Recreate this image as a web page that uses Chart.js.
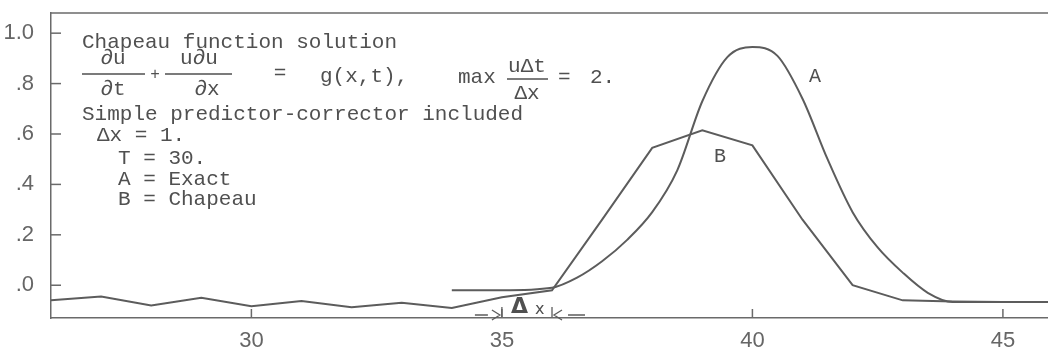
<!DOCTYPE html>
<html>
<head>
<meta charset="utf-8">
<script src="https://cdn.jsdelivr.net/npm/chart.js@4.4.1/dist/chart.umd.min.js"></script>
<style>
  html, body { margin: 0; padding: 0; background: #fff; }
  #wrap { width: 1048px; height: 360px; }
</style>
</head>
<body>
<div id="wrap"><canvas id="burgers" width="1048" height="360"></canvas></div>
<script>
// Chapeau solution (B) at the grid nodes, dx = 1
const chapeauX = [26, 27, 28, 29, 30, 31, 32, 33, 34, 35, 36, 37, 38, 39, 40, 41, 42, 43, 44, 45, 46];
const chapeauU = [-0.06, -0.045, -0.08, -0.05, -0.083, -0.063, -0.087, -0.07, -0.09, -0.048, -0.02,
                  0.26, 0.545, 0.615, 0.555, 0.26, 0.0, -0.06, -0.065, -0.067, -0.067];

// Exact solution (A), sampled at half steps so the curve stays smooth
const exactX = [34, 35, 36, 36.5, 37, 37.5, 38, 38.5, 39, 39.5, 40, 40.5, 41, 41.5, 42, 42.5, 43, 43.5, 44, 45, 46];
const exactU = [-0.02, -0.02, -0.01, 0.03, 0.095, 0.18, 0.29, 0.456, 0.73, 0.905, 0.945, 0.91, 0.74, 0.5,
                0.29, 0.15, 0.05, -0.03, -0.067, -0.067, -0.067];

const xTicks = [30, 35, 40, 45];
const xTickLabels = ['30', '35', '40', '45'];
const yTicks = [0, 0.2, 0.4, 0.6, 0.8, 1.0];
const yTickLabels = ['.0', '.2', '.4', '.6', '.8', '1.0'];

const ink = '#5c5c5c';
const mono = '"Liberation Mono", "DejaVu Sans Mono", monospace';

function pts(xs, ys) {
    return xs.map((x, i) => ({ x: x, y: ys[i] }));
}

// frame, inward ticks and the typed notes
const notes = {
    id: 'notes',
    afterDraw(chart) {
        const ctx = chart.ctx;
        const area = chart.chartArea;
        const sx = chart.scales.x;
        const sy = chart.scales.y;
        ctx.save();
        ctx.strokeStyle = '#6a6a6a';
        ctx.lineWidth = 1.5;

        // top edge of the frame
        ctx.beginPath();
        ctx.moveTo(area.left, area.top);
        ctx.lineTo(area.right, area.top);
        ctx.stroke();

        // inward tick marks
        yTicks.forEach(v => {
            const py = sy.getPixelForValue(v);
            ctx.beginPath();
            ctx.moveTo(area.left, py);
            ctx.lineTo(area.left + 10, py);
            ctx.stroke();
        });
        xTicks.forEach(v => {
            const px = sx.getPixelForValue(v);
            ctx.beginPath();
            ctx.moveTo(px, area.bottom);
            ctx.lineTo(px, area.bottom - 9);
            ctx.stroke();
        });

        ctx.fillStyle = '#505050';
        ctx.textBaseline = 'middle';
        ctx.textAlign = 'left';
        ctx.font = '21px ' + mono;
        ctx.fillText('Chapeau function solution', 82, 42);
        ctx.fillText('Simple predictor-corrector included', 82, 114);
        ctx.fillText('\u0394x = 1.', 97, 135);
        ctx.fillText('T = 30.', 118, 158);
        ctx.fillText('A = Exact', 118, 179);
        ctx.fillText('B = Chapeau', 118, 199);

        // du/dt + u du/dx = g(x,t)
        ctx.textAlign = 'center';
        ctx.fillText('\u2202u', 113, 58);
        ctx.fillText('\u2202t', 113, 89);
        ctx.fillText('u\u2202u', 199, 58);
        ctx.fillText('\u2202x', 207, 89);
        ctx.lineWidth = 1.5;
        ctx.strokeStyle = '#505050';
        ctx.beginPath();
        ctx.moveTo(82, 74); ctx.lineTo(145, 74);
        ctx.moveTo(165, 74); ctx.lineTo(232, 74);
        ctx.moveTo(507, 79); ctx.lineTo(548, 79);
        ctx.stroke();
        ctx.font = '16px ' + mono;
        ctx.fillText('+', 155, 75);
        ctx.font = '21px ' + mono;
        ctx.fillText('=', 280, 73);
        ctx.textAlign = 'left';
        ctx.fillText('g(x,t),', 320, 76);
        ctx.fillText('max', 458, 77);
        ctx.textAlign = 'center';
        ctx.fillText('u\u0394t', 527, 66);
        ctx.fillText('\u0394x', 527, 93);
        ctx.textAlign = 'left';
        ctx.fillText('=', 558, 77);
        ctx.fillText('2.', 590, 77);

        // curve labels
        ctx.font = '20px ' + mono;
        ctx.textAlign = 'center';
        ctx.fillText('A', 815, 77);
        ctx.fillText('B', 720, 157);

        // grid spacing marker between x = 35 and 36
        const p0 = sx.getPixelForValue(35);
        const p1 = sx.getPixelForValue(36);
        const my = area.bottom - 3;
        ctx.strokeStyle = '#5c5c5c';
        ctx.lineWidth = 1.3;
        ctx.beginPath();
        ctx.moveTo(p0 - 27, my); ctx.lineTo(p0 - 14, my);
        ctx.moveTo(p0 - 10, my - 5); ctx.lineTo(p0 - 2, my); ctx.lineTo(p0 - 10, my + 5);
        ctx.moveTo(p0, my - 8); ctx.lineTo(p0, my + 2);
        ctx.moveTo(p1, my - 8); ctx.lineTo(p1, my + 2);
        ctx.moveTo(p1 + 10, my - 5); ctx.lineTo(p1 + 2, my); ctx.lineTo(p1 + 10, my + 5);
        ctx.moveTo(p1 + 16, my); ctx.lineTo(p1 + 33, my);
        ctx.stroke();
        ctx.font = 'bold 22px "DejaVu Sans", sans-serif';
        ctx.textAlign = 'left';
        ctx.fillText('\u0394', p0 + 9, my - 8);
        ctx.font = '16px "DejaVu Sans", sans-serif';
        ctx.fillText('x', p0 + 33, my - 5);
        ctx.restore();
    }
};

const ctx = document.getElementById('burgers').getContext('2d');
const burgersChart = new Chart(ctx, {
    type: 'line',
    data: {
        datasets: [{
            label: 'A',
            data: pts(exactX, exactU),
            borderColor: ink,
            borderWidth: 2,
            pointRadius: 0,
            cubicInterpolationMode: 'monotone',
            fill: false
        }, {
            label: 'B',
            data: pts(chapeauX, chapeauU),
            borderColor: ink,
            borderWidth: 2,
            pointRadius: 0,
            tension: 0,
            fill: false
        }]
    },
    options: {
        responsive: false,
        animation: false,
        devicePixelRatio: 1,
        layout: {
            padding: { top: 13, right: 0, left: 0, bottom: 0 }
        },
        scales: {
            x: {
                type: 'linear',
                min: 26,
                max: 45.9,
                afterFit(scale) {
                    scale.height = 42;
                    scale.paddingLeft = 0;
                    scale.paddingRight = 0;
                },
                afterBuildTicks(scale) { scale.ticks = xTicks.map(v => ({ value: v })); },
                grid: { display: false, drawTicks: false },
                border: { display: true, color: '#6a6a6a', width: 1.5 },
                ticks: {
                    padding: 10,
                    color: '#666',
                    font: { family: '"Liberation Sans", sans-serif', size: 22 },
                    maxRotation: 0,
                    callback: (v) => xTickLabels[xTicks.indexOf(v)]
                }
            },
            y: {
                min: -0.13,
                max: 1.08,
                afterFit(scale) {
                    scale.width = 51;
                    scale.paddingTop = 0;
                    scale.paddingBottom = 0;
                },
                afterBuildTicks(scale) { scale.ticks = yTicks.map(v => ({ value: v })); },
                grid: { display: false, drawTicks: false },
                border: { display: true, color: '#6a6a6a', width: 1.5 },
                ticks: {
                    padding: 17,
                    color: '#666',
                    font: { family: '"Liberation Sans", sans-serif', size: 22 },
                    callback: (v) => yTickLabels[yTicks.indexOf(v)]
                }
            }
        },
        plugins: {
            legend: { display: false },
            tooltip: { enabled: false }
        }
    },
    plugins: [notes]
});
</script>
</body>
</html>
